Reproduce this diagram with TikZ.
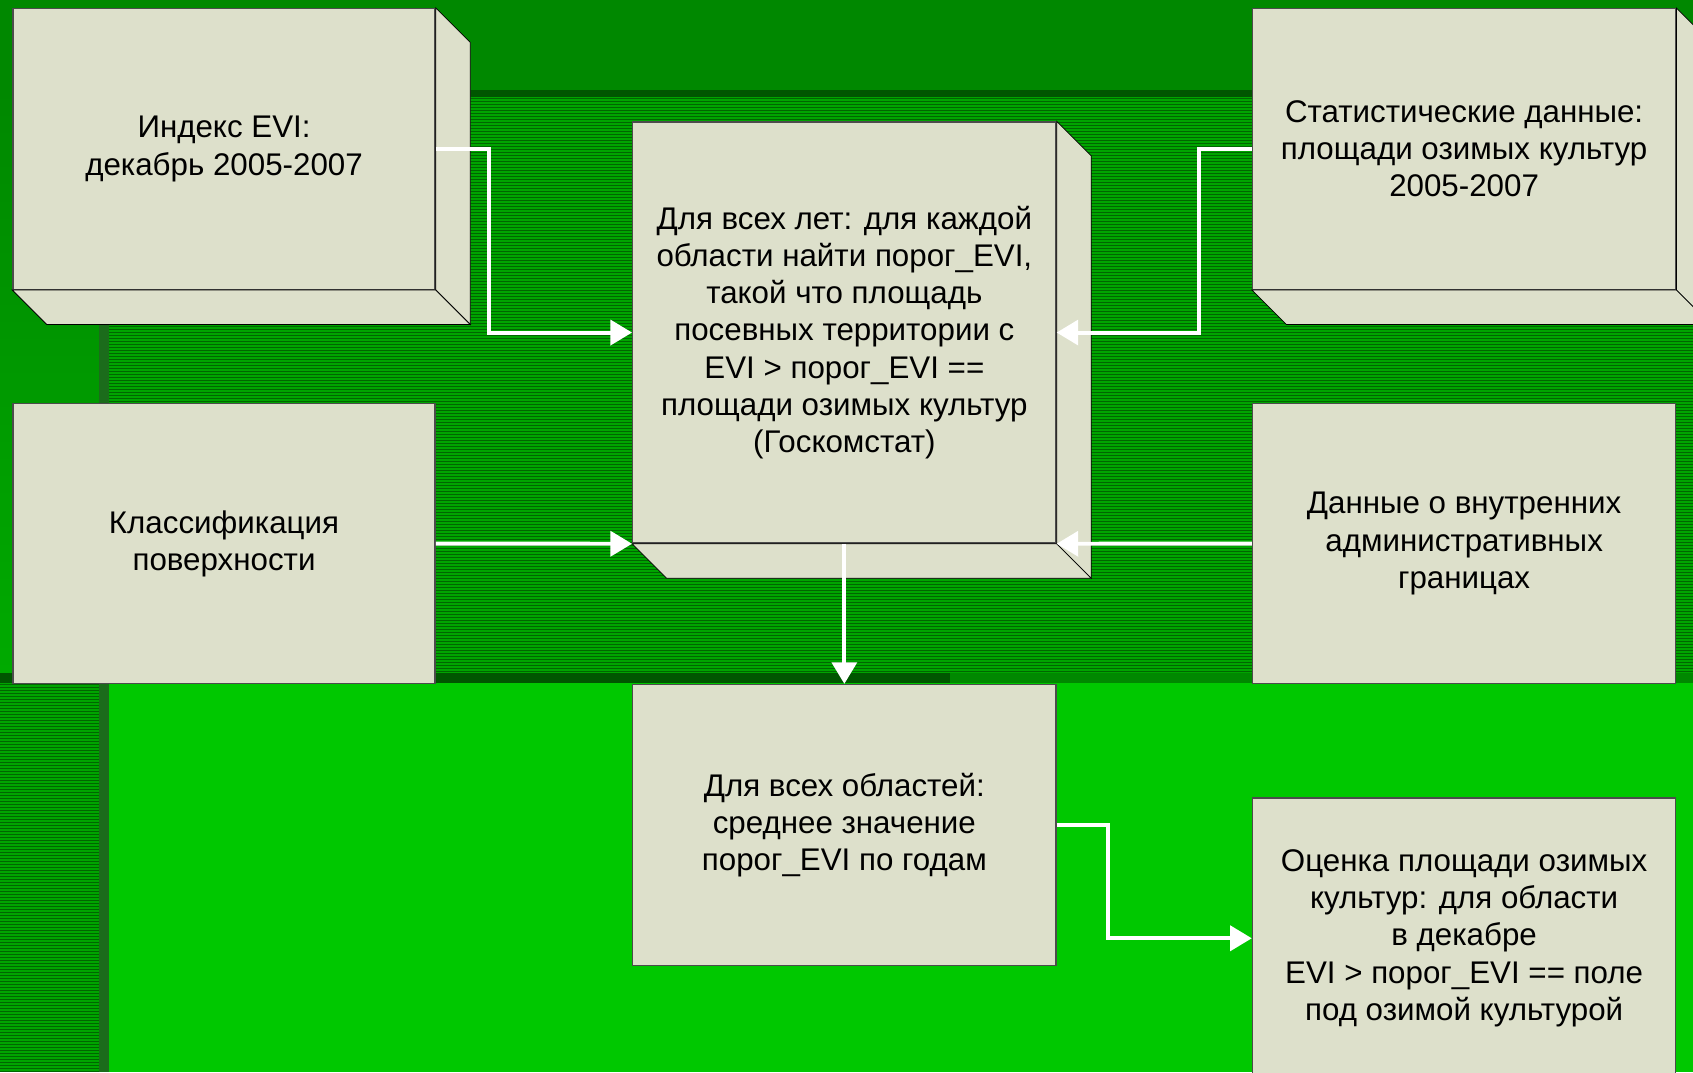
\documentclass[tikz,border=0pt]{standalone}
\usepackage{fontspec}
\setmainfont{Liberation Sans}
\usetikzlibrary{arrows.meta,calc}
\definecolor{topgreen}{HTML}{008800}
\definecolor{leftgreen}{HTML}{00AA00}
\definecolor{stripebase}{HTML}{00A400}
\definecolor{stripedark}{HTML}{006600}
\definecolor{brightgreen}{HTML}{00C800}
\definecolor{bandgreen}{HTML}{005600}
\definecolor{vbandgreen}{HTML}{1B6C1B}
\definecolor{boxfill}{HTML}{DDE0CB}
\begin{document}
\begin{tikzpicture}[x=0.2mm,y=-0.2mm,
  box/.style={draw=black!70,line width=0.7pt,fill=boxfill,align=center,inner sep=0pt,
    font=\fontsize{16.5}{19.6}\selectfont},
  side/.style={draw=black,line width=0.4pt,fill=boxfill},
  arr/.style={draw=white,line width=2.1pt,-{Triangle[length=4mm,width=4.6mm,fill=white]}},
  stripe/.style={draw=stripedark,line width=0.185mm}]
\useasboundingbox (0,0) rectangle (1568,993);
\fill[topgreen] (0,0) rectangle (1568,993);
\shade[top color=topgreen,bottom color=leftgreen] (0,83) rectangle (92,623);
\fill[stripebase] (101,90) rectangle (1568,623);
\fill[stripebase] (0,633) rectangle (92,993);
\foreach \y in {91.4,94.178,...,622} {\draw[stripe] (101,\y) -- (1568,\y);}
\foreach \y in {634.4,637.178,...,993} {\draw[stripe] (0,\y) -- (92,\y);}
\fill[brightgreen] (101,633) rectangle (1568,993);
\fill[bandgreen] (92,83) rectangle (1568,90);
\fill[bandgreen] (0,623) rectangle (880,633);
\fill[vbandgreen] (92,83) rectangle (101,993);

\node[box, minimum width=78.2mm, minimum height=52mm] (evi) at (207.5,138) {Индекс EVI:\\декабрь 2005-2007};
\node[box, minimum width=78.4mm, minimum height=52mm] (stat) at (1356,138) {Статистические данные:\\площади озимых культур\\2005-2007};
\node[box, minimum width=78.4mm, minimum height=78mm] (core) at (782,308) {Для всех лет: для каждой\\области найти порог\_EVI,\\такой что площадь\\посевных территории с\\EVI > порог\_EVI ==\\площади озимых культур\\(Госкомстат)};
\foreach \n in {evi,stat,core} {
  \draw[side] (\n.north east) -- ++(32,32) -- ($(\n.south east)+(32,32)$) -- (\n.south east) -- cycle;
  \draw[side] (\n.south west) -- ++(32,32) -- ($(\n.south east)+(32,32)$) -- (\n.south east) -- cycle;
}
\node[box, minimum width=78.2mm, minimum height=51.8mm] (klass) at (207.5,503.5) {Классификация\\поверхности};
\node[box, minimum width=78.4mm, minimum height=51.8mm] (gran) at (1356,503.5) {Данные о внутренних\\административных\\границах};
\node[box, minimum width=78.4mm, minimum height=52mm] (mean) at (782,764) {Для всех областей:\\среднее значение\\порог\_EVI по годам};
\node[box, minimum width=78.4mm, minimum height=52mm] (ocen) at (1356,869) {Оценка площади озимых\\культур: для области\\в декабре\\EVI > порог\_EVI == поле\\под озимой культурой};

\draw[arr] (evi.east) -- ++(49,0) |- (core.west);
\draw[arr] (stat.west) -- ++(-49,0) |- (core.east);
\draw[arr] (klass.east) -- (core.south west);
\draw[arr] (gran.west) -- (core.south east);
\draw[arr] (core.south) -- (mean.north);
\draw[arr] (mean.east) -- ++(48,0) |- (ocen.west);

\end{tikzpicture}
\end{document}
